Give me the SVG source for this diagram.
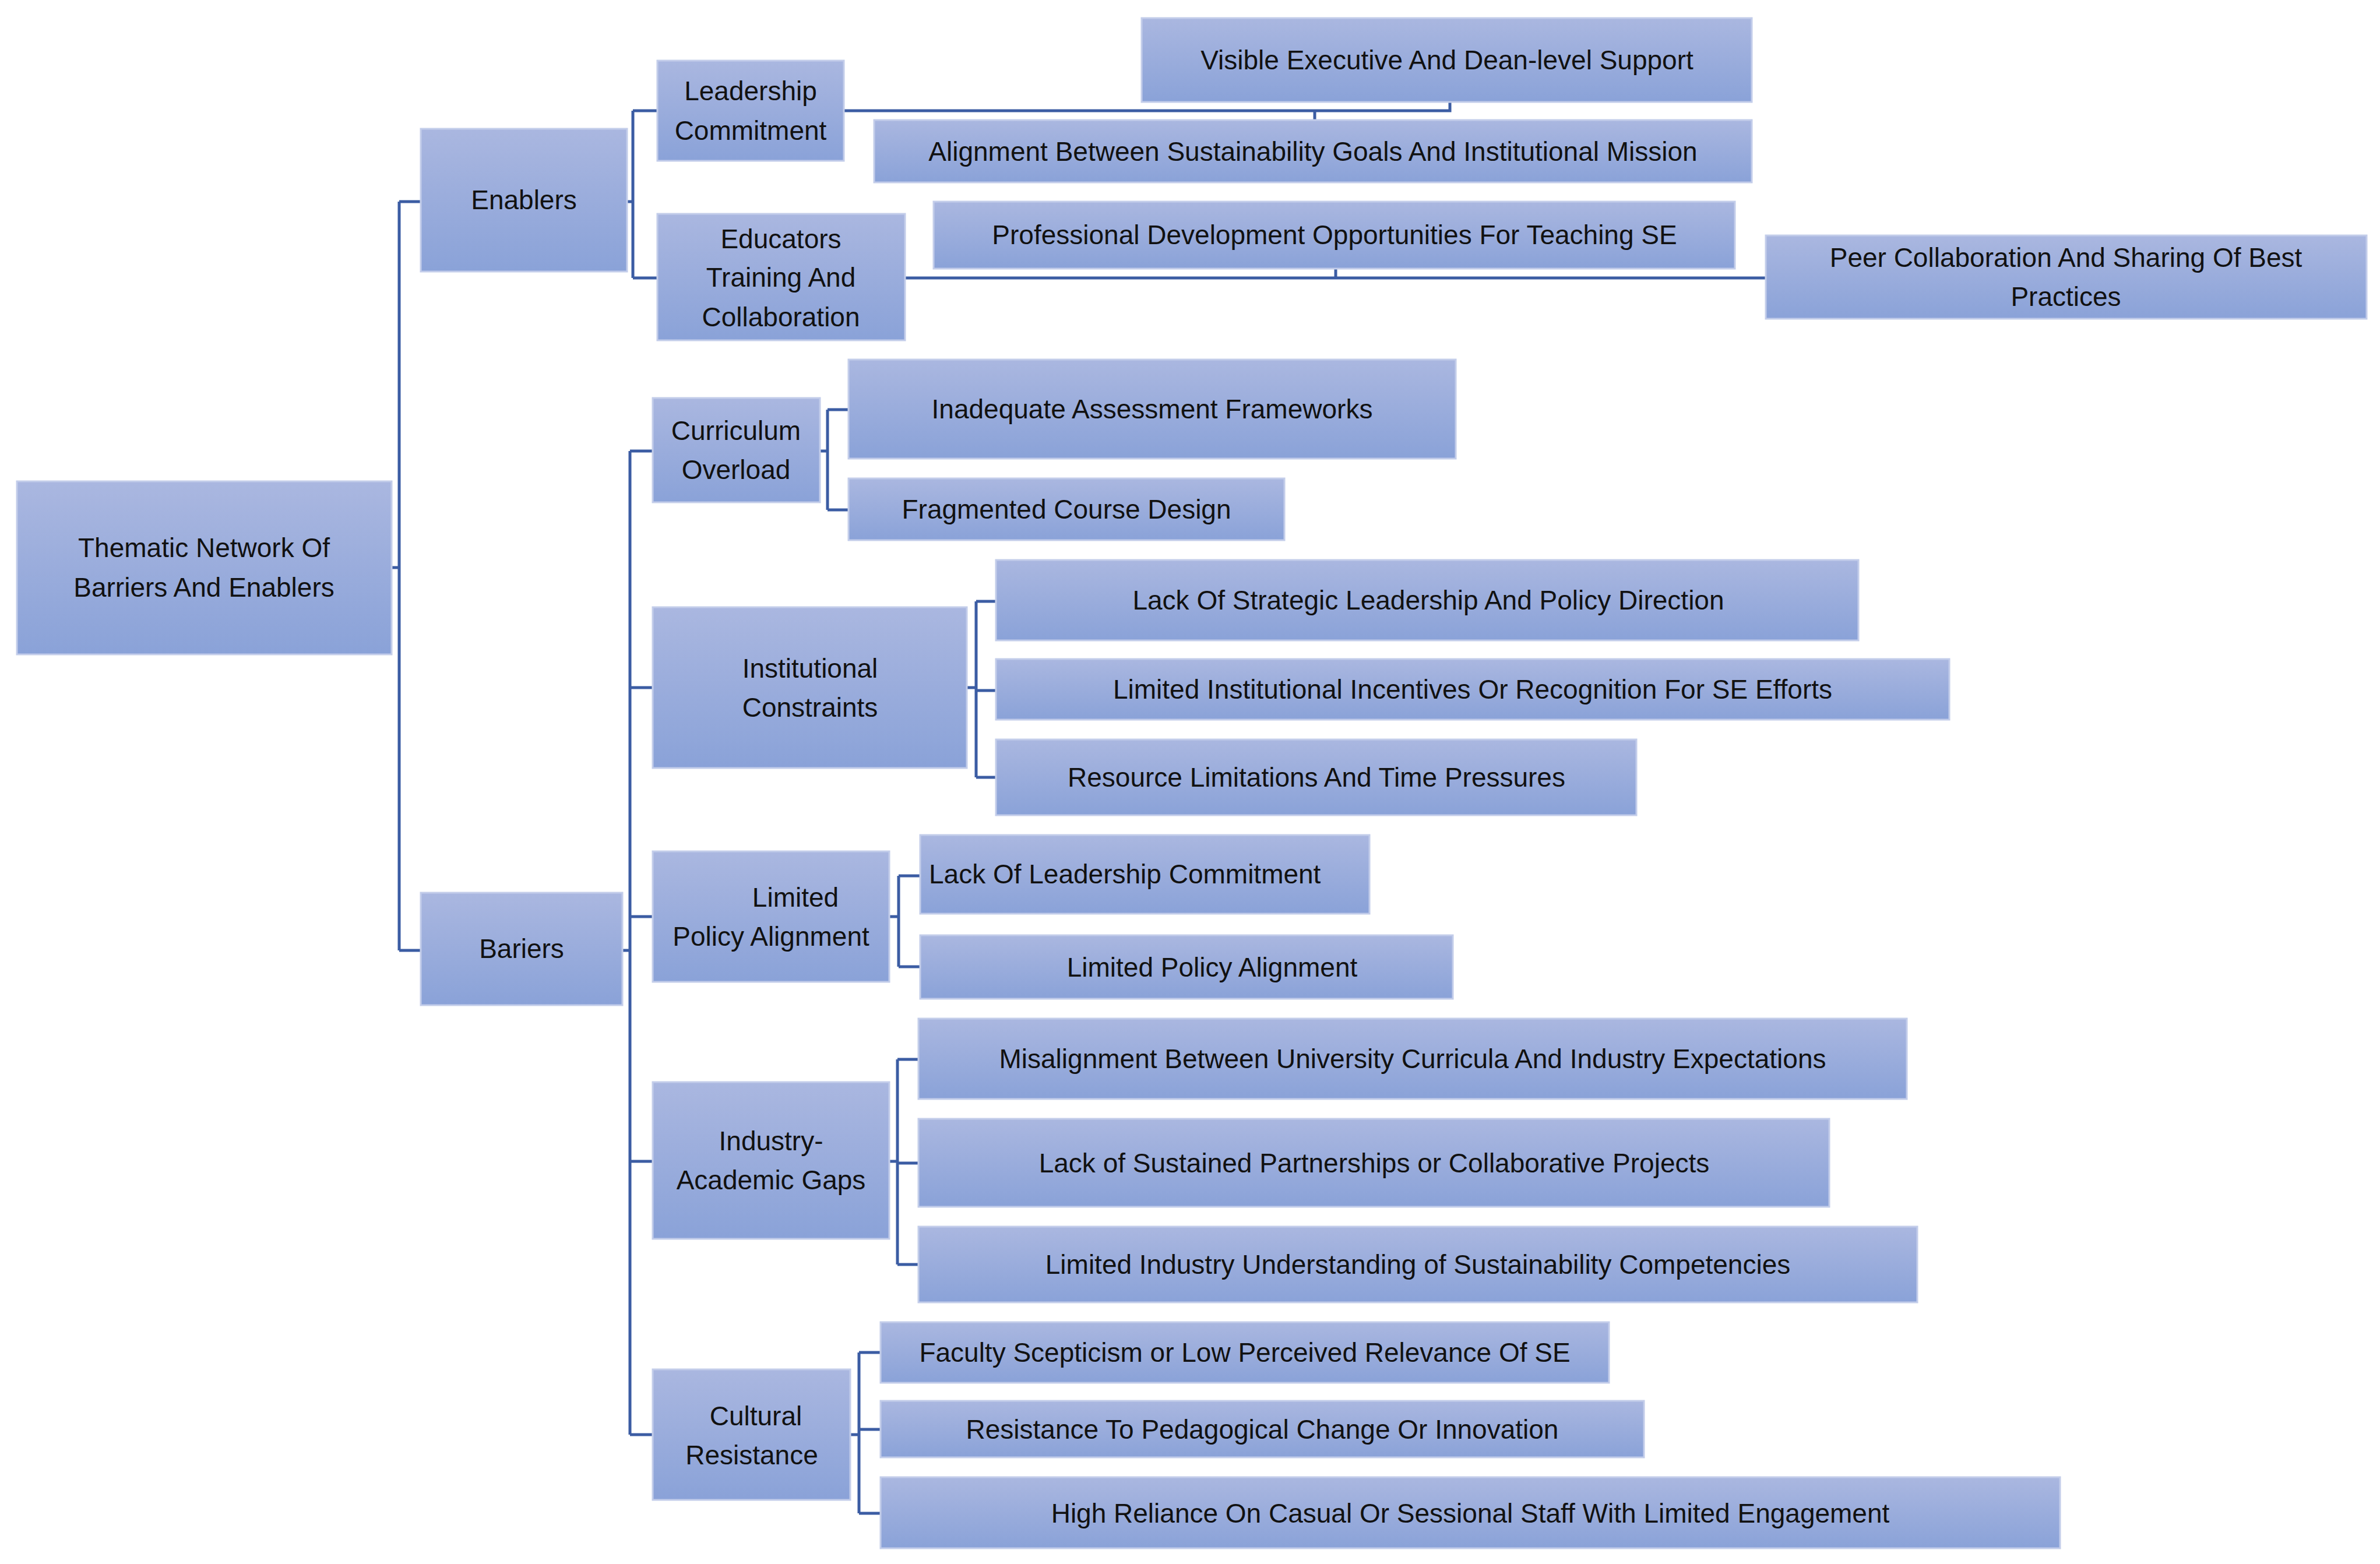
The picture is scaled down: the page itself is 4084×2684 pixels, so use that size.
<svg xmlns="http://www.w3.org/2000/svg" width="4084" height="2684" viewBox="0 0 4084 2684">
<defs>
<linearGradient id="g" x1="0" y1="0" x2="0" y2="1"><stop offset="0" stop-color="#aab7e0"/><stop offset="1" stop-color="#8aa2d8"/></linearGradient>
<style>
rect{fill:url(#g);stroke:#c3cdea;stroke-width:3}
text{font-family:"Liberation Sans",Arial,sans-serif;font-size:46px;fill:#111;text-anchor:middle}
.c path{fill:none;stroke:#3b5ca3;stroke-width:5}
</style>
</defs>
<rect x="0" y="0" width="4084" height="2684" style="fill:#fff;stroke:none"/>
<g class="c" id="connectors">
<path d="M672,974H685M685,346V1631M685,346H722M685,1631H722"/>
<path d="M1076,346H1086M1086,190V477M1086,190H1128M1086,477H1128"/>
<path d="M1448,190H2488V175M2256,190V206"/>
<path d="M1553,477H3030M2292,461V477"/>
<path d="M1068,1631H1081M1081,774V2462M1081,774H1120M1081,1180H1120M1081,1573H1120M1081,1993H1120M1081,2462H1120"/>
<path d="M1407,774H1420M1420,703V875M1420,703H1456M1420,875H1456"/>
<path d="M1659,1180H1675M1675,1032V1334M1675,1032H1709M1675,1185H1709M1675,1334H1709"/>
<path d="M1526,1573H1542M1542,1503V1659M1542,1503H1579M1542,1659H1579"/>
<path d="M1526,1993H1540M1540,1818V2170M1540,1818H1576M1540,1996H1576M1540,2170H1576"/>
<path d="M1459,2462H1474M1474,2321V2597M1474,2321H1511M1474,2453H1511M1474,2597H1511"/>
</g>
<g id="root"><rect x="29" y="826" width="643" height="297"/><text x="350" y="956">Thematic Network Of</text><text x="350" y="1024">Barriers And Enablers</text></g>
<g id="enablers"><rect x="722" y="221" width="354" height="245"/><text x="899" y="359">Enablers</text></g>
<g id="bariers"><rect x="722" y="1532" width="346" height="193"/><text x="895" y="1644">Bariers</text></g>
<g id="leadership"><rect x="1128" y="104" width="320" height="172"/><text x="1288" y="172">Leadership</text><text x="1288" y="240">Commitment</text></g>
<g id="educators"><rect x="1128" y="367" width="425" height="217"/><text x="1340" y="426">Educators</text><text x="1340" y="492">Training And</text><text x="1340" y="560">Collaboration</text></g>
<g id="visible"><rect x="1959" y="31" width="1047" height="144"/><text x="2483" y="119">Visible Executive And Dean-level Support</text></g>
<g id="alignment"><rect x="1500" y="206" width="1506" height="107"/><text x="2253" y="276">Alignment Between Sustainability Goals And Institutional Mission</text></g>
<g id="professional"><rect x="1602" y="346" width="1375" height="115"/><text x="2290" y="419">Professional Development Opportunities For Teaching SE</text></g>
<g id="peer"><rect x="3030" y="404" width="1031" height="143"/><text x="3545" y="458">Peer Collaboration And Sharing Of Best</text><text x="3545" y="525">Practices</text></g>
<g id="curriculum"><rect x="1120" y="683" width="287" height="179"/><text x="1263" y="755">Curriculum</text><text x="1263" y="822">Overload</text></g>
<g id="inadequate"><rect x="1456" y="617" width="1042" height="170"/><text x="1977" y="718">Inadequate Assessment Frameworks</text></g>
<g id="fragmented"><rect x="1456" y="821" width="748" height="106"/><text x="1830" y="890">Fragmented Course Design</text></g>
<g id="institutional"><rect x="1120" y="1042" width="539" height="276"/><text x="1390" y="1163">Institutional</text><text x="1390" y="1230">Constraints</text></g>
<g id="strategic"><rect x="1709" y="961" width="1480" height="138"/><text x="2451" y="1046">Lack Of Strategic Leadership  And Policy Direction</text></g>
<g id="incentives"><rect x="1709" y="1131" width="1636" height="104"/><text x="2527" y="1199">Limited Institutional Incentives Or Recognition For SE Efforts</text></g>
<g id="resource"><rect x="1709" y="1269" width="1099" height="130"/><text x="2259" y="1350">Resource Limitations And Time Pressures</text></g>
<g id="lpa"><rect x="1120" y="1461" width="406" height="224"/><text x="1365" y="1556">Limited</text><text x="1323" y="1623">Policy Alignment</text></g>
<g id="lackleader"><rect x="1579" y="1433" width="771" height="135"/><text x="1594" y="1516" style="text-anchor:start">Lack Of Leadership Commitment</text></g>
<g id="lpaleaf"><rect x="1579" y="1605" width="914" height="109"/><text x="2080" y="1676">Limited Policy Alignment</text></g>
<g id="industry"><rect x="1120" y="1857" width="406" height="269"/><text x="1323" y="1974">Industry-</text><text x="1323" y="2041">Academic Gaps</text></g>
<g id="misalignment"><rect x="1576" y="1748" width="1696" height="138"/><text x="2424" y="1833">Misalignment Between University Curricula And Industry Expectations</text></g>
<g id="sustained"><rect x="1576" y="1920" width="1563" height="151"/><text x="2358" y="2012">Lack of Sustained Partnerships or Collaborative Projects</text></g>
<g id="understanding"><rect x="1576" y="2105" width="1714" height="130"/><text x="2433" y="2186">Limited Industry Understanding of Sustainability Competencies</text></g>
<g id="cultural"><rect x="1120" y="2350" width="339" height="224"/><text x="1297" y="2446">Cultural</text><text x="1290" y="2513">Resistance</text></g>
<g id="faculty"><rect x="1511" y="2269" width="1250" height="104"/><text x="2136" y="2337">Faculty Scepticism or Low Perceived Relevance Of SE</text></g>
<g id="resistance"><rect x="1511" y="2404" width="1310" height="97"/><text x="2166" y="2469">Resistance To Pedagogical Change Or Innovation</text></g>
<g id="reliance"><rect x="1511" y="2535" width="2024" height="122"/><text x="2523" y="2613">High Reliance On Casual Or Sessional Staff With Limited Engagement</text></g>
</svg>
